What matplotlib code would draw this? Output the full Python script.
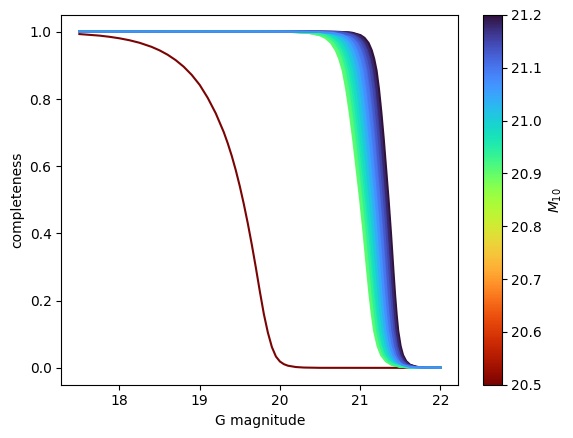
import numpy as np
import matplotlib
matplotlib.use("Agg")
import matplotlib.pyplot as plt
from matplotlib.colors import Normalize
from matplotlib.cm import ScalarMappable

# ---- data ----
# broad curve (M10 = 20.5)
red_m10 = 20.5
red_g = [17.50, 17.75, 17.875, 18.00, 18.125, 18.25, 18.40, 18.50, 18.60, 18.70,
         18.80, 18.90, 19.00, 19.10, 19.20, 19.30, 19.35, 19.40, 19.45, 19.50,
         19.55, 19.60, 19.65, 19.70, 19.75, 19.80, 19.85, 19.90, 19.95, 20.00,
         20.05, 20.10, 20.20, 20.30, 20.50, 22.00]
red_c = [0.9932, 0.9886, 0.9851, 0.9806, 0.9748, 0.9673, 0.9552, 0.9447, 0.9318, 0.9158,
         0.8962, 0.8719, 0.8420, 0.8035, 0.7575, 0.7015, 0.6680, 0.6305, 0.5880, 0.5405,
         0.4875, 0.4295, 0.3663, 0.2985, 0.2272, 0.1600, 0.1050, 0.0620, 0.0340, 0.0190,
         0.0110, 0.0065, 0.0025, 0.0010, 0.0002, 0.0]

# shape of the steep curves, as offset from the 50% point
shape_off = [-5.0, -1.0, -0.60, -0.45, -0.35, -0.30, -0.25, -0.21, -0.18, -0.15,
             -0.12, -0.09, -0.06, -0.03, 0.00, 0.03, 0.06, 0.08, 0.10, 0.12,
             0.15, 0.18, 0.22, 0.27, 0.35, 0.50, 5.0]
shape_c = [1.0, 0.99995, 0.9995, 0.997, 0.990, 0.982, 0.967, 0.945, 0.920, 0.885,
           0.830, 0.760, 0.680, 0.590, 0.500, 0.400, 0.290, 0.220, 0.160, 0.110,
           0.065, 0.038, 0.020, 0.009, 0.003, 0.0005, 0.0]

# steep curves: M10, 50% magnitude and width factor
band_m10 = [20.90, 20.91, 20.92, 20.93, 20.94, 20.95, 20.96, 20.97, 20.98, 20.99,
            21.00, 21.01, 21.02, 21.03, 21.04, 21.05, 21.06, 21.07, 21.08, 21.09,
            21.10, 21.11, 21.12, 21.13, 21.14, 21.15, 21.16, 21.17, 21.18, 21.19,
            21.20]
band_g50 = [21.000, 21.012, 21.024, 21.035, 21.047, 21.059, 21.071, 21.083, 21.095, 21.106,
            21.118, 21.130, 21.142, 21.154, 21.166, 21.177, 21.189, 21.201, 21.213, 21.225,
            21.237, 21.248, 21.260, 21.272, 21.284, 21.296, 21.308, 21.319, 21.331, 21.343,
            21.355]
band_width = [1.450, 1.435, 1.420, 1.405, 1.390, 1.375, 1.360, 1.345, 1.330, 1.315,
              1.300, 1.285, 1.270, 1.255, 1.240, 1.225, 1.210, 1.195, 1.180, 1.165,
              1.150, 1.135, 1.120, 1.105, 1.090, 1.075, 1.060, 1.045, 1.030, 1.015,
              1.000]
draw_order = [12, 3, 27, 18, 7, 22, 0, 15, 29, 9, 24, 5, 19, 13, 30, 2, 26, 10,
              21, 6, 16, 28, 1, 11, 25, 8, 20, 14, 4, 23, 17]

g_min, g_max = 17.5, 22.0
vmin, vmax = 20.5, 21.2

# ---- plot ----
fig = plt.figure(figsize=(5.73, 4.38), dpi=100)
ax = fig.add_axes([0.107, 0.1217, 0.693, 0.8441])
cax = fig.add_axes([0.843, 0.1217, 0.0323, 0.8441])

cmap = plt.get_cmap("turbo_r")
norm = Normalize(vmin=vmin, vmax=vmax)

ax.plot(red_g, red_c, color=cmap(norm(red_m10)), lw=1.5)

off = np.array(shape_off)
for i in draw_order:
    g = np.clip(band_g50[i] + band_width[i] * off, g_min, g_max)
    ax.plot(g, shape_c, color=cmap(norm(band_m10[i])), lw=1.5)

ax.set_xlabel("G magnitude")
ax.set_ylabel("completeness")

sm = ScalarMappable(norm=norm, cmap=cmap)
cb = fig.colorbar(sm, cax=cax)
cb.set_label("$M_{10}$")

fig.savefig("out.png", dpi=100)
